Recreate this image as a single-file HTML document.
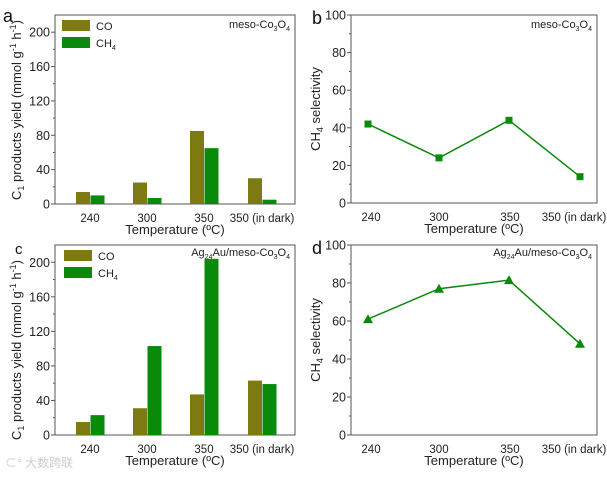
<!DOCTYPE html>
<html><head><meta charset="utf-8"><style>
body{margin:0;background:#fff;}
svg{display:block;font-family:"Liberation Sans",Arial,sans-serif;}
</style></head><body>
<svg id="chart" width="607" height="477" viewBox="0 0 607 477"></svg>
<script>
const categories=["240","300","350","350 (in dark)"];
const coA=[14,25,85,30];
const ch4A=[10,7,65,5];
const coC=[15,31,47,63];
const ch4C=[23,103,204,59];
const selB=[42,24,44,14];
const selD=[61,77,81.5,48];
const barTicks=[0,40,80,120,160,200];
const selTicks=[0,20,40,60,80,100];

const NS="http://www.w3.org/2000/svg";
const svg=document.getElementById('chart');
function mk(tag,attrs,parent,text){const e=document.createElementNS(NS,tag);for(const k in attrs)e.setAttribute(k,attrs[k]);if(text!==undefined)e.textContent=text;(parent||svg).appendChild(e);return e;}
const CO="#7d7a12", CH="#098a0a";
const TF=12.5, XF=11.5, AF=13;

function frame(g,L,R,T,B){
  mk('rect',{x:L,y:T,width:R-L,height:B-T,fill:'none',stroke:'#555','stroke-width':1},g);
}
function barPanel(name,L,R,T,B,co,ch,label,tag,lx,ly,titleC){
  const g=mk('g',{});
  
  
  const y=v=>B-(v/220)*(B-T);
  const centers=[90,147,204,262];
  const x=i=>centers[i];
  frame(g,L,R,T,B);
  barTicks.forEach(t=>{
    mk('line',{x1:L,x2:L-4,y1:y(t),y2:y(t),stroke:'#555'},g);
    const tx=mk('text',{x:L-5,y:y(t)+4.5,'font-size':TF,'text-anchor':'end',fill:'#222'},g,t);
    
    
  });
  for(let t=20;t<220;t+=40) mk('line',{x1:L,x2:L-2,y1:y(t),y2:y(t),stroke:'#555'},g);
  categories.forEach((c,i)=>{
    const cx=x(i);
    const b1=mk('rect',{x:cx-14,y:y(co[i]),width:14,height:B-y(co[i]),fill:CO},g);
    
    
    const b2=mk('rect',{x:cx+0.5,y:y(ch[i]),width:14,height:B-y(ch[i]),fill:CH},g);
    
    
    const tl=mk('text',{x:cx,y:B+18,'font-size':XF,'text-anchor':'middle',fill:'#222'},g,c);
    
    
  });
  const lg=mk('g',{},g);
  
  
  mk('rect',{x:lx,y:ly,width:28,height:11,fill:CO},lg);
  mk('text',{x:lx+34,y:ly+10,'font-size':11,fill:'#222'},lg,'CO');
  mk('rect',{x:lx,y:ly+17,width:28,height:11,fill:CH},lg);
  const t2=mk('text',{x:lx+34,y:ly+27,'font-size':11,fill:'#222'},lg,'CH');
  mk('tspan',{'font-size':7,dy:3},t2,'4');
  label(g);
  const yt=mk('text',{transform:`translate(21,${titleC}) rotate(-90)`,'font-size':AF,'text-anchor':'middle',fill:'#222'},g);
  
  
  yt.innerHTML='C<tspan font-size="9" dy="3">1</tspan><tspan dy="-3"> products yield (mmol g</tspan><tspan font-size="9" dy="-5">-1</tspan><tspan dy="5"> h</tspan><tspan font-size="9" dy="-5">-1</tspan><tspan dy="5">)</tspan>';
  const xt=mk('text',{x:(L+R)/2,y:B+30,'font-size':AF,'text-anchor':'middle',fill:'#222'},g,'Temperature (ºC)');
  
  
  const tg=mk('text',{x:tag[1],y:tag[2],'font-size':tag[3],fill:'#111'},g,tag[0]);
  
  
}
function selPanel(name,L,R,T,B,vals,marker,label,tag){
  const g=mk('g',{});
  
  
  const y=v=>B-(v/100)*(B-T);
  const xs=[368,439,509,580];
  const x=i=>xs[i];
  frame(g,L,R,T,B);
  selTicks.forEach(t=>{
    mk('line',{x1:L,x2:L-4,y1:y(t),y2:y(t),stroke:'#555'},g);
    const tx=mk('text',{x:L-5,y:y(t)+4.5,'font-size':TF,'text-anchor':'end',fill:'#222'},g,t);
    
    
  });
  for(let t=10;t<100;t+=20) mk('line',{x1:L,x2:L-2,y1:y(t),y2:y(t),stroke:'#555'},g);
  const pts=vals.map((v,i)=>x(i)+','+y(v)).join(' ');
  const pl=mk('polyline',{points:pts,fill:'none',stroke:CH,'stroke-width':1.5},g);
  
  
  vals.forEach((v,i)=>{
    let m;
    if(marker==='sq') m=mk('rect',{x:x(i)-3.5,y:y(v)-3.5,width:7,height:7,fill:CH},g);
    else m=mk('polygon',{points:`${x(i)},${y(v)-5} ${x(i)-5},${y(v)+4} ${x(i)+5},${y(v)+4}`,fill:CH},g);
    
    
  });
  const tpos=[371,439,510,574];
  categories.forEach((c,i)=>{
    const tl=mk('text',{x:tpos[i],y:B+18,'font-size':XF,'text-anchor':'middle',fill:'#222'},g,c);
    
    
  });
  label(g);
  const yt=mk('text',{transform:`translate(320,${(T+B)/2}) rotate(-90)`,'font-size':AF,'text-anchor':'middle',fill:'#222'},g);
  
  
  yt.innerHTML='CH<tspan font-size="9" dy="3">4</tspan><tspan dy="-3"> selectivity</tspan>';
  const xt=mk('text',{x:(L+R)/2,y:B+30,'font-size':AF,'text-anchor':'middle',fill:'#222'},g,'Temperature (ºC)');
  
  
  const tg=mk('text',{x:tag[1],y:tag[2],'font-size':tag[3],fill:'#111'},g,tag[0]);
  
  
}
function mesoLabel(x,y){return g=>{const t=mk('text',{x:x,y:y,'font-size':11,'text-anchor':'end',fill:'#222'},g);t.innerHTML='meso-Co<tspan font-size="7" dy="3">3</tspan><tspan dy="-3">O</tspan><tspan font-size="7" dy="3">4</tspan>';};}
function agLabel(x,y){return g=>{const t=mk('text',{x:x,y:y,'font-size':11,'text-anchor':'end',fill:'#222'},g);t.innerHTML='Ag<tspan font-size="7" dy="3">24</tspan><tspan dy="-3">Au/meso-Co</tspan><tspan font-size="7" dy="3">3</tspan><tspan dy="-3">O</tspan><tspan font-size="7" dy="3">4</tspan>';};}

barPanel('panel-a-yield',55,295,15,204,coA,ch4A,mesoLabel(290,28),['a',3,22,18],62,20,110);
barPanel('panel-c-yield',55,295,245,435,coC,ch4C,agLabel(290,256),['c',15,254,15],64,250,350);
selPanel('panel-b-selectivity',351,597,15,203,selB,'sq',mesoLabel(592,28),['b',312,24,18]);
selPanel('panel-d-selectivity',351,597,245,435,selD,'tri',agLabel(592,256),['d',312,254,18]);
const wm=mk('text',{x:5,y:467,'font-size':12,fill:'#ccc',"font-family":"Liberation Sans, Noto Sans CJK SC, sans-serif"},svg,'⊂° 大数跨联');


</script>
</body></html>
